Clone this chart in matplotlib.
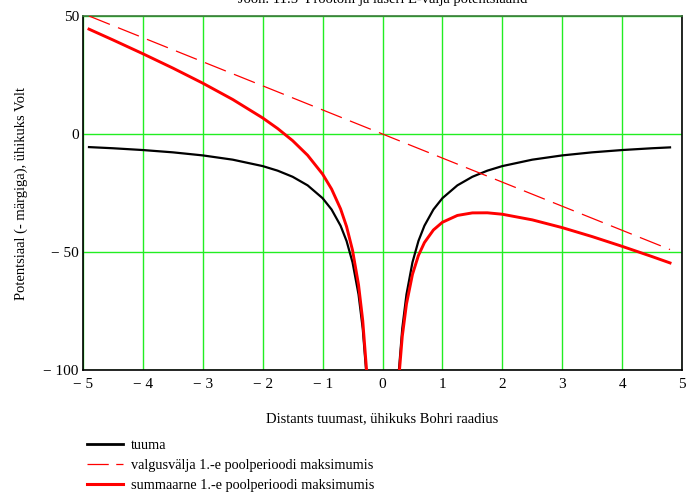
import matplotlib
matplotlib.use("Agg")
import matplotlib.pyplot as plt
from matplotlib.lines import Line2D

# Data
x_left = [-4.9, -4.5, -4.0, -3.5, -3.0, -2.5, -2.0, -1.75, -1.5, -1.25, -1.0,
          -0.85, -0.7, -0.6, -0.5, -0.4, -0.33, -0.26]
x_right = [0.26, 0.33, 0.4, 0.5, 0.6, 0.7, 0.85, 1.0, 1.25, 1.5, 1.75, 2.0,
           2.5, 3.0, 3.5, 4.0, 4.5, 4.8]

tuuma_left = [-5.55, -6.04, -6.80, -7.77, -9.07, -10.88, -13.60, -15.54, -18.13,
              -21.76, -27.20, -32.00, -38.86, -45.33, -54.40, -68.00, -82.42, -104.6]
tuuma_right = [-104.6, -82.42, -68.00, -54.40, -45.33, -38.86, -32.00, -27.20,
               -21.76, -18.13, -15.54, -13.60, -10.88, -9.07, -7.77, -6.80, -6.04, -5.67]

valgus_x = [-4.9, 0.0, 4.8]
valgus_y = [50.0, 0.0, -48.96]

summa_left = [44.43, 39.86, 34.00, 27.93, 21.53, 14.62, 6.80, 2.31, -2.83, -9.01,
              -17.00, -23.33, -31.72, -39.21, -49.30, -63.92, -79.05, -101.97]
summa_right = [-107.27, -85.79, -72.08, -59.50, -51.45, -46.00, -40.67, -37.40,
               -34.51, -33.43, -33.39, -34.00, -36.38, -39.67, -43.47, -47.60,
               -51.94, -54.63]

x_ticks = [-5, -4, -3, -2, -1, 0, 1, 2, 3, 4, 5]
x_ticklabels = ["\u2212 5", "\u2212 4", "\u2212 3", "\u2212 2", "\u2212 1", "0",
                "1", "2", "3", "4", "5"]
y_ticks = [-100, -50, 0, 50]
y_ticklabels = ["\u2212 100", "\u2212 50", "0", "50"]

labels = ["tuuma", "valgusvälja 1.-e poolperioodi maksimumis",
          "summaarne 1.-e poolperioodi maksimumis"]

plt.rcParams['font.family'] = ['Liberation Serif', 'DejaVu Serif']

W, H = 689, 493
fig = plt.figure(figsize=(W / 100, H / 100), dpi=100)
ax = fig.add_axes([83 / W, 1 - 370 / H, (682 - 83) / W, (370 - 16) / H])

ax.set_xlim(-5, 5)
ax.set_ylim(-100, 50)

grid_color = '#22ee22'
for xv in x_ticks:
    ax.axvline(xv, color=grid_color, lw=1.0, zorder=1)
for yv in y_ticks:
    ax.axhline(yv, color=grid_color, lw=1.0, zorder=1)

dash = (0, (18, 7))
ax.plot(x_left, tuuma_left, color='black', lw=1.6, zorder=3)
ax.plot(x_right, tuuma_right, color='black', lw=1.6, zorder=3)
ax.plot(valgus_x, valgus_y, color='red', lw=0.9, linestyle=dash, zorder=3)
ax.plot(x_left, summa_left, color='red', lw=2.1, zorder=4)
ax.plot(x_right, summa_right, color='red', lw=2.1, zorder=4)

ax.set_xticks(x_ticks)
ax.set_xticklabels(x_ticklabels, fontsize=11)
ax.set_yticks(y_ticks)
ax.set_yticklabels(y_ticklabels, fontsize=11)
ax.tick_params(axis='x', length=0, pad=6)
ax.tick_params(axis='y', length=0, pad=3)

for s in ['left', 'bottom', 'right']:
    ax.spines[s].set_color('black')
    ax.spines[s].set_linewidth(1.2)
ax.spines['top'].set_color('#3a7a3a')
ax.spines['top'].set_linewidth(1.2)

ax.set_xlabel("Distants tuumast, ühikuks Bohri raadius", fontsize=10.5, labelpad=15)
ax.set_ylabel("Potentsiaal (- märgiga), ühikuks Volt", fontsize=10.5, labelpad=11)

fig.text(383 / W, 1.0, "Joon. 11.5  Prootoni ja laseri E-välja potentsiaalid",
         ha='center', va='center', fontsize=10.5)

handles = [Line2D([], [], color='black', lw=2.0),
           Line2D([], [], color='red', lw=0.9, linestyle=(0, (17, 6))),
           Line2D([], [], color='red', lw=2.2)]
fig.legend(handles, labels, loc='upper left', bbox_to_anchor=(87 / W, 1 - 439 / H),
           frameon=False, fontsize=10.3, handlelength=2.5, handletextpad=0.55,
           labelspacing=0.48, borderaxespad=0, borderpad=0)

fig.savefig("out.png", dpi=100)
